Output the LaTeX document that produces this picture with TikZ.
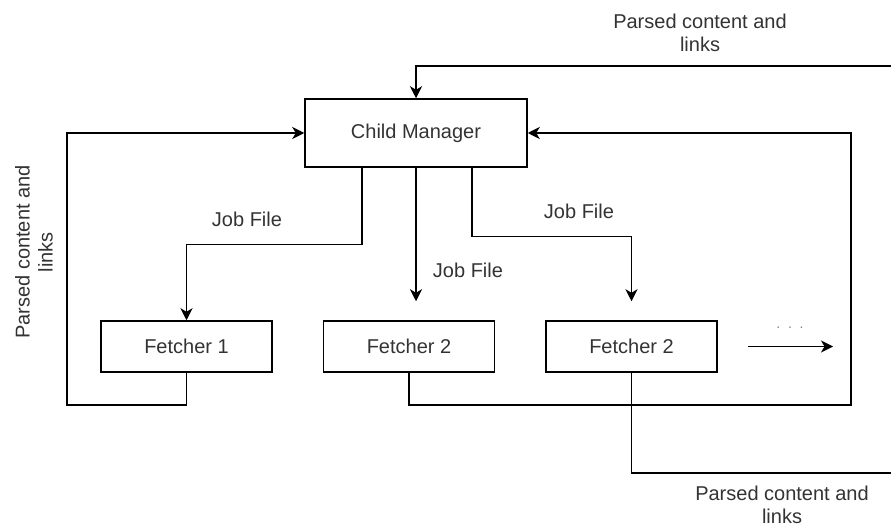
\documentclass[tikz,border=0pt]{standalone}
\usepackage{fontspec}
\setmainfont{Liberation Sans}
\usepackage{tikz}
\usetikzlibrary{arrows.meta, positioning}
\definecolor{textgray}{RGB}{51,51,51}

\begin{document}
\begin{tikzpicture}[
    x=1pt, y=-1pt,
    node distance=50pt,
    manager/.style={rectangle, minimum width=222pt, minimum height=68pt, text centered, draw=black, line width=1.5pt, text=textgray, font=\fontsize{20}{23}\selectfont},
    fetcher/.style={rectangle, minimum width=171pt, minimum height=51pt, text centered, draw=black, line width=1.5pt, text=textgray, font=\fontsize{20}{23}\selectfont},
    note/.style={align=center, inner sep=0pt, text=textgray, font=\fontsize{20}{23}\selectfont},
    arrow/.style={line width=1.5pt, ->, >={Stealth[length=12pt, width=12pt, inset=3.5pt]}},
    wire/.style={line width=1.5pt}
]
    \useasboundingbox (0,0) rectangle (891,529);

    \node[manager] (cm) at (416,133) {Child Manager};
    \node[fetcher] (f1) at (186.5,346.5) {Fetcher 1};
    \node[fetcher, right=of f1] (f2) {Fetcher 2};
    \node[fetcher, right=of f2] (f3) {Fetcher 2};

    % free ends
    \coordinate (in3) at ([yshift=19pt]f3.north);
    \coordinate (in2) at (cm.south |- in3);
    \coordinate (feedin) at (891,66);
    \coordinate (feedout) at (891,473);
    \coordinate (more1) at (748,346.5);
    \coordinate (more2) at (833,346.5);

    % job files going down
    \draw[arrow] ([xshift=-54pt]cm.south) -- ++(0,77) -| (f1.north);
    \draw[arrow] (cm.south) -- (in2);
    \draw[arrow] ([xshift=56pt]cm.south) -- ++(0,69) -| (in3);
    \node[note] (jf1) at (247,219) {Job File};
    \node[note] (jf2) at (468,270) {Job File};
    \node[note] (jf3) at (579,211) {Job File};

    % results coming back
    \draw[arrow] (f1.south) |- (67,405) |- (cm.west);
    \draw[arrow] (f2.south) |- (851,405) |- (cm.east);
    \draw[wire] (f3.south) |- (feedout);
    \draw[arrow] (feedin) -| (cm.north);

    \draw[arrow] (more1) -- (more2);
    \node[note, text=gray, font=\fontsize{14}{16}\selectfont] (dots) at (790,328) {.\ \ .\ \ .};

    \node[note] (pc0) at (700,32.5) {Parsed content and\\links};
    \node[note] (pc3) at (782,505) {Parsed content and\\links};
    \node[note, rotate=90] (pc1) at (34,252) {Parsed content and\\links};
\end{tikzpicture}
\end{document}
